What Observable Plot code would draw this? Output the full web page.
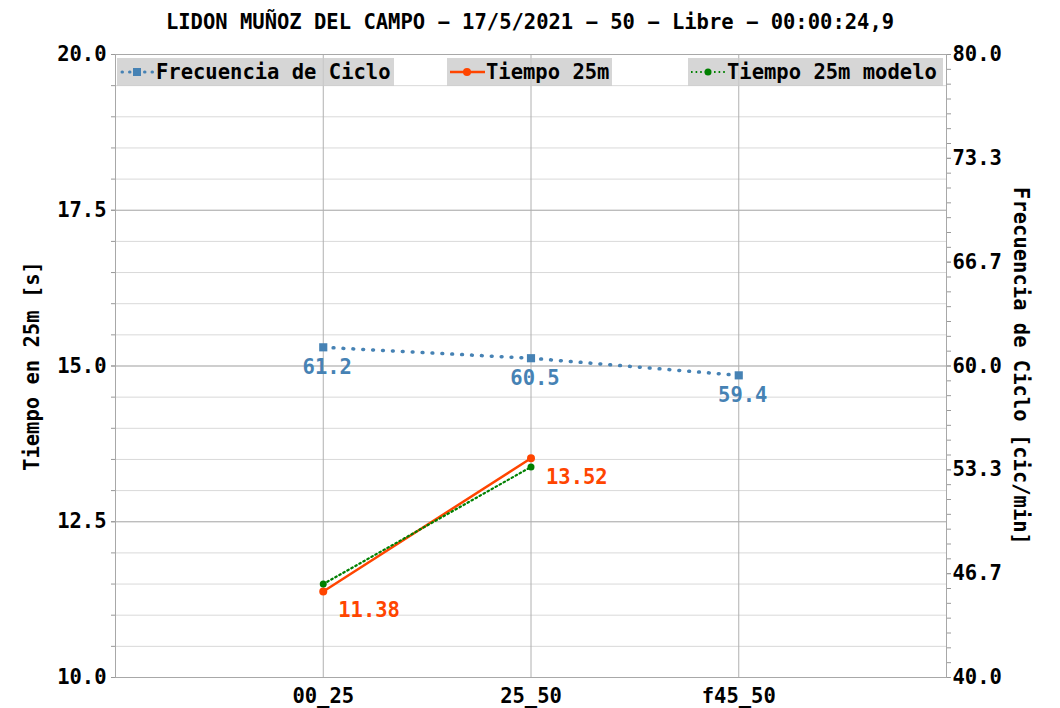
<!DOCTYPE html>
<html>
<head>
<meta charset="utf-8">
<script src="https://cdn.jsdelivr.net/npm/d3@7"></script>
<script src="https://cdn.jsdelivr.net/npm/@observablehq/plot@0.6"></script>
<style>
  html, body { margin: 0; padding: 0; background: #fff; overflow: hidden; }
  #wrap { position: relative; width: 1060px; height: 708px; font-family: 'DejaVu Sans Mono', monospace; font-weight: bold; }
  #title { height: 44px; line-height: 44px; text-align: center; font-size: 20.5px; color: #000; white-space: pre; }
  #chart svg { display: block; }
  .lg { position: absolute; top: 58px; height: 28px; background: rgba(204,204,204,0.8); font-size: 20.5px; line-height: 28px; display: flex; align-items: center; white-space: pre; color: #000; }
  .lg svg { display: block; margin-left: 2px; margin-right: 1px; }
</style>
</head>
<body>
<div id="wrap">
  <div id="title"></div>
  <div id="chart"></div>
  <div id="legend"></div>
</div>
<script>
const titleText = "LIDON MUÑOZ DEL CAMPO \u2212 17/5/2021 \u2212 50 \u2212 Libre \u2212 00:00:24,9";
const categories = ["00_25", "25_50", "f45_50"];
const frecuencia = [61.2, 60.5, 59.4];
const tiempo = [11.38, 13.52];
const tiempoModelo = [11.50, 13.38];
const leftTicks = [10, 12.5, 15, 17.5, 20];
const rightTicks = [40, 46.667, 53.333, 60, 66.667, 73.333, 80];
const seriesNames = ["Frecuencia de Ciclo", "Tiempo 25m", "Tiempo 25m modelo"];
const leftLabel = "Tiempo en 25m [s]";
const rightLabel = "Frecuencia de Ciclo [cic/min]";

const BLUE = "#4682b4", RED = "#ff4500", GREEN = "#008000";
const toLeft = v => 10 + (v - 40) / 4;

document.getElementById("title").textContent = titleText;

const freqData = categories.map((c, i) => ({cat: c, v: frecuencia[i], y: toLeft(frecuencia[i])}));
const tData = tiempo.map((v, i) => ({cat: categories[i], v}));
const mData = tiempoModelo.map((v, i) => ({cat: categories[i], v}));

const leftMinor = d3.range(10, 20.001, 0.5);
const rightMinor = d3.range(0, 43).map(k => toLeft(40 + k * 40 / 42));

const chart = Plot.plot({
  width: 1060,
  height: 664,
  marginTop: 10,
  marginBottom: 31,
  marginLeft: 115,
  marginRight: 114,
  style: {fontFamily: "'DejaVu Sans Mono', monospace", fontSize: "20.5px", fontWeight: "bold", background: "#fff", overflow: "visible"},
  x: {type: "point", domain: categories, padding: 1, round: false},
  y: {domain: [10, 20]},
  marks: [
    Plot.gridY(leftMinor, {stroke: "#d9d9d9", strokeOpacity: 1}),
    Plot.gridY(leftTicks, {stroke: "#b0b0b0", strokeOpacity: 1}),
    Plot.gridX(categories, {stroke: "#b0b0b0", strokeOpacity: 1}),
    Plot.frame({stroke: "#a8a8a8"}),
    Plot.axisY(leftMinor, {anchor: "left", tickSize: 4, stroke: "#999", tickFormat: () => "", label: null}),
    Plot.axisY(leftTicks, {anchor: "left", tickSize: 4, tickPadding: 5, stroke: "#999", fill: "#000", tickFormat: d => d.toFixed(1), label: null}),
    Plot.axisY(rightMinor, {anchor: "right", tickSize: 4, stroke: "#999", tickFormat: () => "", label: null}),
    Plot.axisY(rightTicks.map(toLeft), {anchor: "right", tickSize: 4, tickPadding: 2, stroke: "#999", fill: "#000", tickFormat: (d, i) => rightTicks[i].toFixed(1), label: null}),
    Plot.axisX(categories, {tickSize: 0, tickPadding: 11, fill: "#000", label: null}),
    Plot.text([leftLabel], {frameAnchor: "left", dx: -83, rotate: -90, fill: "#000", textAnchor: "middle", lineAnchor: "middle"}),
    Plot.text([rightLabel], {frameAnchor: "right", dx: 74, rotate: 90, fill: "#000", textAnchor: "middle", lineAnchor: "middle"}),
    Plot.line(freqData, {x: "cat", y: "y", stroke: BLUE, strokeWidth: 3.5, strokeDasharray: "0.8 9.1", strokeLinecap: "round"}),
    Plot.dot(freqData, {x: "cat", y: "y", symbol: "square", r: 4.6, fill: BLUE, stroke: null}),
    Plot.text(freqData, {x: "cat", y: "y", text: d => d.v.toFixed(1), fill: BLUE, dx: 4, dy: 20}),
    Plot.line(tData, {x: "cat", y: "v", stroke: RED, strokeWidth: 2.5}),
    Plot.dot(tData, {x: "cat", y: "v", r: 4, fill: RED, stroke: null}),
    Plot.text(tData, {x: "cat", y: "v", text: d => d.v.toFixed(2), fill: RED, textAnchor: "start", dx: 15, dy: 19}),
    Plot.line(mData, {x: "cat", y: "v", stroke: GREEN, strokeWidth: 2.2, strokeDasharray: "1.6 3"}),
    Plot.dot(mData, {x: "cat", y: "v", r: 3.5, fill: GREEN, stroke: null})
  ]
});
document.getElementById("chart").appendChild(chart);

// Legend (HTML overlay)
const legendDefs = [
  {name: seriesNames[0], left: 117, width: 277, sample: `<line x1="3" y1="14" x2="34" y2="14" stroke="${BLUE}" stroke-width="3" stroke-dasharray="0.5 7" stroke-linecap="round"/><rect x="14" y="10" width="8" height="8" fill="${BLUE}"/>`},
  {name: seriesNames[1], left: 447, width: 165, sample: `<line x1="1" y1="14" x2="36" y2="14" stroke="${RED}" stroke-width="2.5"/><circle cx="18" cy="14" r="4" fill="${RED}"/>`},
  {name: seriesNames[2], left: 688, width: 255, sample: `<line x1="1" y1="14" x2="36" y2="14" stroke="${GREEN}" stroke-width="2" stroke-dasharray="1.6 3"/><circle cx="18" cy="14" r="3.5" fill="${GREEN}"/>`}
];
const lg = document.getElementById("legend");
legendDefs.forEach(d => {
  const div = document.createElement("div");
  div.className = "lg";
  div.style.left = d.left + "px";
  div.style.width = d.width + "px";
  div.innerHTML = `<svg width="36" height="28">${d.sample}</svg><span></span>`;
  div.querySelector("span").textContent = d.name;
  lg.appendChild(div);
});
</script>
</body>
</html>
